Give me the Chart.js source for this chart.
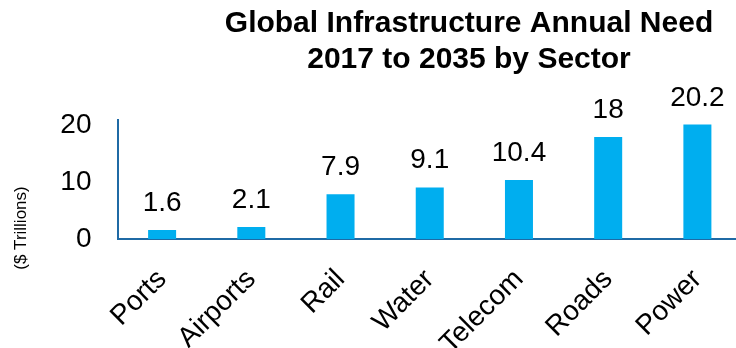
<!DOCTYPE html>
<html>
<head>
<meta charset="utf-8">
<script src="https://cdn.jsdelivr.net/npm/chart.js@4/dist/chart.umd.min.js"></script>
<style>
  html, body { margin: 0; padding: 0; background: #fff; overflow: hidden; }
  #wrap { width: 742px; height: 348px; }
</style>
</head>
<body>
<div id="wrap"><canvas id="needChart" width="742" height="348"></canvas></div>
<script>
const sectors = ['Ports', 'Airports', 'Rail', 'Water', 'Telecom', 'Roads', 'Power'];
const needTrillions = [1.6, 2.1, 7.9, 9.1, 10.4, 18, 20.2];
const yTicks = [0, 10, 20];
const titleLines = ['Global Infrastructure Annual Need', '2017 to 2035 by Sector'];
const yTitle = '($ Trillions)';

const FONT = '"Liberation Sans", Arial, sans-serif';
const barBlue = '#00AEEF';
const axisBlue = '#1F6AA5';

// title, side label and value labels are painted straight on the canvas
const annotate = {
  id: 'annotate',
  afterDatasetsDraw(chart) {
    const ctx = chart.ctx;
    const meta = chart.getDatasetMeta(0);
    ctx.save();
    ctx.fillStyle = '#000';
    ctx.textAlign = 'center';
    ctx.textBaseline = 'alphabetic';

    ctx.font = 'bold 30px ' + FONT;
    titleLines.forEach((line, i) => ctx.fillText(line, 469, 32 + i * 36));

    ctx.font = '28px ' + FONT;
    meta.data.forEach((bar, i) => {
      ctx.fillText(String(needTrillions[i]), bar.x, bar.y - 19);
    });

    ctx.font = '17px ' + FONT;
    ctx.translate(21, 228);
    ctx.rotate(-Math.PI / 2);
    ctx.textBaseline = 'middle';
    ctx.fillText(yTitle, 0, 0);
    ctx.restore();
  }
};

new Chart(document.getElementById('needChart'), {
  type: 'bar',
  data: {
    labels: sectors,
    datasets: [{
      data: needTrillions,
      backgroundColor: barBlue,
      barPercentage: 0.314,
      categoryPercentage: 1
    }]
  },
  options: {
    responsive: false,
    animation: false,
    layout: { padding: { top: 120, left: 0, right: 0, bottom: 0 } },
    plugins: {
      legend: { display: false },
      tooltip: { enabled: false },
      title: { display: false }
    },
    scales: {
      x: {
        grid: { display: false, drawTicks: false },
        border: { display: true, color: axisBlue, width: 2 },
        ticks: {
          color: '#000',
          font: { family: FONT, size: 28 },
          minRotation: 45,
          maxRotation: 45,
          padding: 24
        },
        afterFit(scale) {
          scale.height = 109;
          scale.paddingLeft = 0;
          scale.paddingRight = 0;
        }
      },
      y: {
        min: 0,
        max: 21,
        grid: { display: false, drawTicks: false },
        border: { display: true, color: axisBlue, width: 2 },
        ticks: {
          color: '#000',
          font: { family: FONT, size: 28 },
          padding: 26
        },
        afterBuildTicks(scale) {
          scale.ticks = yTicks.map(v => ({ value: v }));
        },
        afterFit(scale) { scale.width = 117.5; }
      }
    }
  },
  plugins: [annotate]
});
</script>
</body>
</html>
